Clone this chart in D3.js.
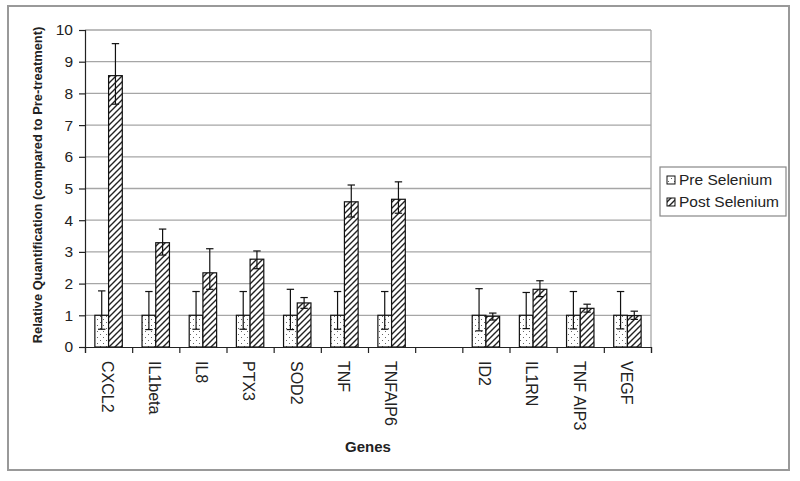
<!DOCTYPE html>
<html>
<head>
<meta charset="utf-8">
<script src="https://cdn.jsdelivr.net/npm/d3@7"></script>
<style>
  body { margin: 0; background: #fff; }
  svg { font-family: Arial, "Liberation Sans", sans-serif; }
</style>
</head>
<body>
<div id="chart"></div>
<script>
// Genes (empty slot between the two groups)
const genes = ["CXCL2", "IL1beta", "IL8", "PTX3", "SOD2", "TNF", "TNFAIP6", "", "ID2", "IL1RN", "TNF AIP3", "VEGF"];

// Pre selenium: value, upper and lower error ends
const preVal = [1, 1, 1, 1, 1, 1, 1, null, 1, 1, 1, 1];
const preHi  = [1.77, 1.75, 1.75, 1.75, 1.82, 1.75, 1.75, null, 1.84, 1.72, 1.75, 1.75];
const preLo  = [0.56, 0.55, 0.56, 0.56, 0.55, 0.56, 0.56, null, 0.51, 0.58, 0.57, 0.57];

// Post selenium
const postVal = [8.56, 3.29, 2.34, 2.77, 1.39, 4.58, 4.66, null, 0.97, 1.82, 1.22, 0.99];
const postHi  = [9.57, 3.72, 3.10, 3.03, 1.56, 5.11, 5.21, null, 1.07, 2.09, 1.35, 1.13];
const postLo  = [7.66, 2.90, 1.82, 2.47, 1.22, 4.10, 4.22, null, 0.85, 1.59, 1.10, 0.87];

const yTicks = [0, 1, 2, 3, 4, 5, 6, 7, 8, 9, 10];
const seriesNames = ["Pre Selenium", "Post Selenium"];

const width = 800, height = 481;
const plot = {left: 85, right: 651, top: 30, bottom: 347};

const svg = d3.select("#chart").append("svg")
  .attr("width", width)
  .attr("height", height);

// patterns
const defs = svg.append("defs");
const dots = defs.append("pattern")
  .attr("id", "dots")
  .attr("patternUnits", "userSpaceOnUse")
  .attr("width", 6).attr("height", 6);
dots.append("rect").attr("width", 6).attr("height", 6).attr("fill", "#fff");
dots.append("rect").attr("x", 1).attr("y", 1).attr("width", 1).attr("height", 1).attr("fill", "#666");
dots.append("rect").attr("x", 4).attr("y", 4).attr("width", 1).attr("height", 1).attr("fill", "#666");

const hatch = defs.append("pattern")
  .attr("id", "hatch")
  .attr("patternUnits", "userSpaceOnUse")
  .attr("width", 6).attr("height", 6);
hatch.append("rect").attr("width", 6).attr("height", 6).attr("fill", "#fff");
hatch.append("path")
  .attr("d", "M-1,1 L1,-1 M0,6 L6,0 M5,7 L7,5")
  .attr("stroke", "#222").attr("stroke-width", 1.4);

// outer frame
svg.append("rect")
  .attr("x", 8).attr("y", 6)
  .attr("width", 781).attr("height", 464)
  .attr("fill", "none")
  .attr("stroke", "#999").attr("stroke-width", 2);

// scales
const idx = d3.range(genes.length);
const x = d3.scaleBand().domain(idx).range([plot.left, plot.right]).paddingInner(0).paddingOuter(0);
const xSub = d3.scaleBand().domain([0, 1]).range([0, x.bandwidth()]).paddingInner(0).paddingOuter(0.72);
const y = d3.scaleLinear().domain([0, 10]).range([plot.bottom, plot.top]);
const edge = d3.scaleLinear().domain([0, genes.length]).range([plot.left, plot.right]);

// gridlines
svg.append("g")
  .selectAll("line")
  .data(yTicks.filter(d => d > 0))
  .join("line")
  .attr("x1", plot.left).attr("x2", plot.right)
  .attr("y1", d => y(d)).attr("y2", d => y(d))
  .attr("stroke", "#a6a6a6").attr("stroke-width", 1.3);

// plot right border
svg.append("line")
  .attr("x1", plot.right).attr("x2", plot.right)
  .attr("y1", plot.top).attr("y2", plot.bottom)
  .attr("stroke", "#a6a6a6").attr("stroke-width", 1.3);

// bars
const series = [
  {val: preVal, hi: preHi, lo: preLo, fill: "url(#dots)"},
  {val: postVal, hi: postHi, lo: postLo, fill: "url(#hatch)"}
];

series.forEach((s, si) => {
  const g = svg.append("g");
  const rows = idx.filter(i => s.val[i] != null);
  g.selectAll("rect")
    .data(rows)
    .join("rect")
    .attr("x", i => x(i) + xSub(si))
    .attr("y", i => y(s.val[i]))
    .attr("width", xSub.bandwidth())
    .attr("height", i => y(0) - y(s.val[i]))
    .attr("fill", s.fill)
    .attr("stroke", "#111").attr("stroke-width", 1.2);

  const cx = i => x(i) + xSub(si) + xSub.bandwidth() / 2;
  g.selectAll("line.err")
    .data(rows)
    .join("line")
    .attr("class", "err")
    .attr("x1", cx).attr("x2", cx)
    .attr("y1", i => y(s.hi[i])).attr("y2", i => y(s.lo[i]))
    .attr("stroke", "#111").attr("stroke-width", 1.2);
  ["hi", "lo"].forEach(k => {
    g.selectAll("line.cap" + k)
      .data(rows)
      .join("line")
      .attr("class", "cap" + k)
      .attr("x1", i => cx(i) - 3.7).attr("x2", i => cx(i) + 3.7)
      .attr("y1", i => y(s[k][i])).attr("y2", i => y(s[k][i]))
      .attr("stroke", "#111").attr("stroke-width", 1.2);
  });
});

// y axis
const yAxis = svg.append("g")
  .attr("transform", `translate(${plot.left},0)`)
  .call(d3.axisLeft(y).tickValues(yTicks).tickSize(6).tickPadding(6).tickFormat(d3.format("d")));
yAxis.select(".domain").attr("stroke", "#222").attr("stroke-width", 1.2);
yAxis.selectAll(".tick line").attr("stroke", "#222").attr("stroke-width", 1.2);
yAxis.selectAll("text")
  .attr("font-size", 15.5).attr("fill", "#222")
  .attr("font-family", "Arial, 'Liberation Sans', sans-serif");

// x axis (ticks at category edges)
const xAxis = svg.append("g")
  .attr("transform", `translate(0,${plot.bottom})`)
  .call(d3.axisBottom(edge).tickValues(d3.range(genes.length + 1)).tickSize(6).tickFormat(""));
xAxis.select(".domain").attr("stroke", "#222").attr("stroke-width", 1.2);
xAxis.selectAll(".tick line").attr("stroke", "#222").attr("stroke-width", 1.2);

// category labels, rotated
svg.append("g")
  .selectAll("text")
  .data(idx.filter(i => genes[i] !== ""))
  .join("text")
  .attr("transform", i => `translate(${x(i) + x.bandwidth() / 2 - 1},361) rotate(90)`)
  .attr("dy", "0.35em")
  .attr("font-size", 16)
  .attr("fill", "#222")
  .text(i => genes[i]);

// axis titles
svg.append("text")
  .attr("transform", "translate(42,185) rotate(-90)")
  .attr("text-anchor", "middle")
  .attr("font-size", 12.9).attr("font-weight", "bold")
  .attr("fill", "#222")
  .text("Relative Quantification (compared to Pre-treatment)");

svg.append("text")
  .attr("x", (plot.left + plot.right) / 2)
  .attr("y", 452)
  .attr("text-anchor", "middle")
  .attr("font-size", 15).attr("font-weight", "bold")
  .attr("fill", "#222")
  .text("Genes");

// legend
const legend = svg.append("g").attr("transform", "translate(660,167)");
legend.append("rect")
  .attr("width", 126).attr("height", 49)
  .attr("fill", "#fff")
  .attr("stroke", "#888").attr("stroke-width", 1.2);
const fills = ["url(#dots)", "url(#hatch)"];
const items = legend.selectAll("g.item")
  .data(seriesNames)
  .join("g")
  .attr("class", "item")
  .attr("transform", (d, i) => `translate(7,${13 + i * 22})`);
items.append("rect")
  .attr("x", 0).attr("y", -4)
  .attr("width", 8).attr("height", 8)
  .attr("fill", (d, i) => fills[i])
  .attr("stroke", "#111").attr("stroke-width", 1);
items.append("text")
  .attr("x", 12).attr("dy", "0.35em")
  .attr("font-size", 15.5).attr("fill", "#222")
  .text(d => d);
</script>
</body>
</html>
